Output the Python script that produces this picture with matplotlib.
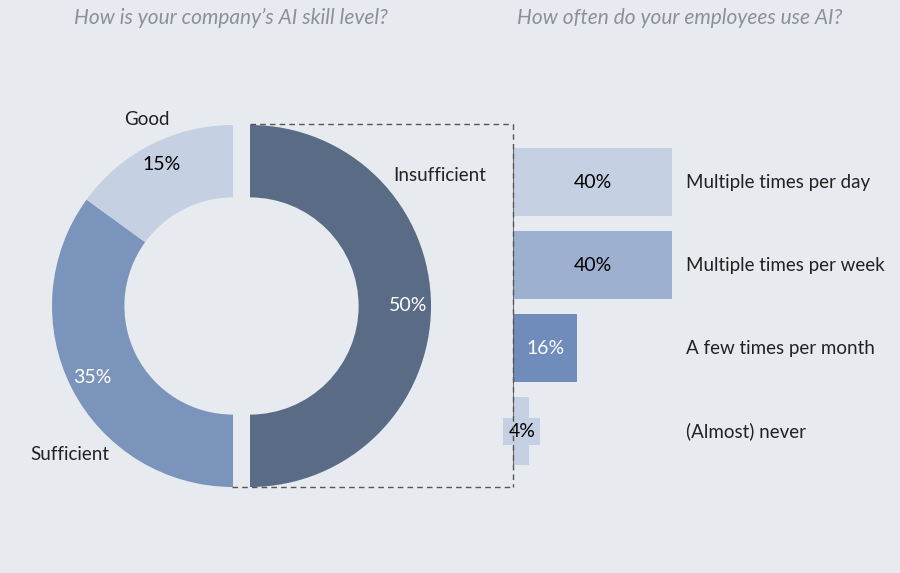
import numpy as np
import matplotlib.pyplot as plt
from matplotlib.lines import Line2D

plt.rcParams['font.family'] = ['Lato', 'DejaVu Sans']

# donut data
skill_labels = ["Insufficient", "Sufficient", "Good"]
skill_values = [50, 35, 15]
skill_colors = ["#5a6b86", "#7b94bb", "#c5d0e2"]
skill_pct_colors = ["white", "white", "black"]

# bar data
use_labels = ["Multiple times per day", "Multiple times per week",
              "A few times per month", "(Almost) never"]
use_values = [40, 40, 16, 4]
use_colors = ["#c5d0e2", "#9db0cf", "#6f8cba", "#c5d0e2"]
use_pct_colors = ["black", "black", "white", "black"]

W, H = 900, 573
fig = plt.figure(figsize=(W / 100, H / 100), dpi=100)
fig.patch.set_facecolor("#e7eaee")

def px_rect(x0, y0, x1, y1):
    # pixel box (top-left origin) -> figure fraction rect
    return [x0 / W, 1 - y1 / H, (x1 - x0) / W, (y1 - y0) / H]

# ---- donut ----
R = 181.0
cx, cy = 233.0, 306.0
lim = 1.3
ax1 = fig.add_axes(px_rect(cx - lim * R, cy - lim * R, cx + lim * R, cy + lim * R))

wedges, texts, autotexts = ax1.pie(
    skill_values, colors=skill_colors, startangle=90, counterclock=False,
    explode=[0.094, 0, 0], radius=1.0, autopct='%d%%', pctdistance=0.875,
    wedgeprops=dict(width=0.4, linewidth=0), textprops=dict(fontsize=14))
for t, c in zip(autotexts, skill_pct_colors):
    t.set_color(c)
# pie() resets the limits, so set them afterwards
ax1.set_xlim(-lim, lim)
ax1.set_ylim(-lim, lim)
ax1.set_aspect('equal')
ax1.axis('off')

# category names placed around the ring
name_pos = {"Insufficient": (1.14, 0.72),
            "Sufficient": (-0.90, -0.82),
            "Good": (-0.475, 1.03)}
for name in skill_labels:
    x, y = name_pos[name]
    ax1.text(x, y, name, fontsize=13.5, ha='center', va='center', color="#222222")

# ---- bars ----
scale = 3.97  # px per percent
x0 = 513
ax2 = fig.add_axes(px_rect(x0, 124, W, 487))
ax2.set_xlim(0, (W - x0) / scale)
ax2.set_ylim(3.67, -0.70)
ax2.axis('off')

ypos = np.arange(len(use_values))
ax2.barh(ypos, use_values, height=0.82, color=use_colors)
for i, (v, c, bc) in enumerate(zip(use_values, use_pct_colors, use_colors)):
    ax2.text(v / 2 + 0.2, i, f"{v}%", ha='center', va='center', fontsize=14, color=c,
             bbox=dict(boxstyle='square,pad=0.25', fc=bc, ec='none'))
    ax2.text(43.5, i, use_labels[i], ha='left', va='center', fontsize=13.5, color="#222222")
ax2.vlines(0, -0.41, 3.46, color="#555555", lw=1.2)

# dashed box around the exploded slice
dash = dict(color="#555555", lw=1, ls=(0, (4, 3)), transform=fig.transFigure)
fig.add_artist(Line2D([250 / W, 513 / W], [1 - 124 / H, 1 - 124 / H], **dash))
fig.add_artist(Line2D([232 / W, 513 / W], [1 - 487 / H, 1 - 487 / H], **dash))
fig.add_artist(Line2D([513 / W, 513 / W], [1 - 124 / H, 1 - 487 / H], **dash))

# titles
fig.text(231 / W, 1 - 18 / H, "How is your company\u2019s AI skill level?", ha='center', va='center',
         fontsize=15, style='italic', color="#8c9097")
fig.text(680 / W, 1 - 18 / H, "How often do your employees use AI?", ha='center', va='center',
         fontsize=15, style='italic', color="#8c9097")

fig.savefig("out.png", dpi=100, facecolor=fig.get_facecolor())
